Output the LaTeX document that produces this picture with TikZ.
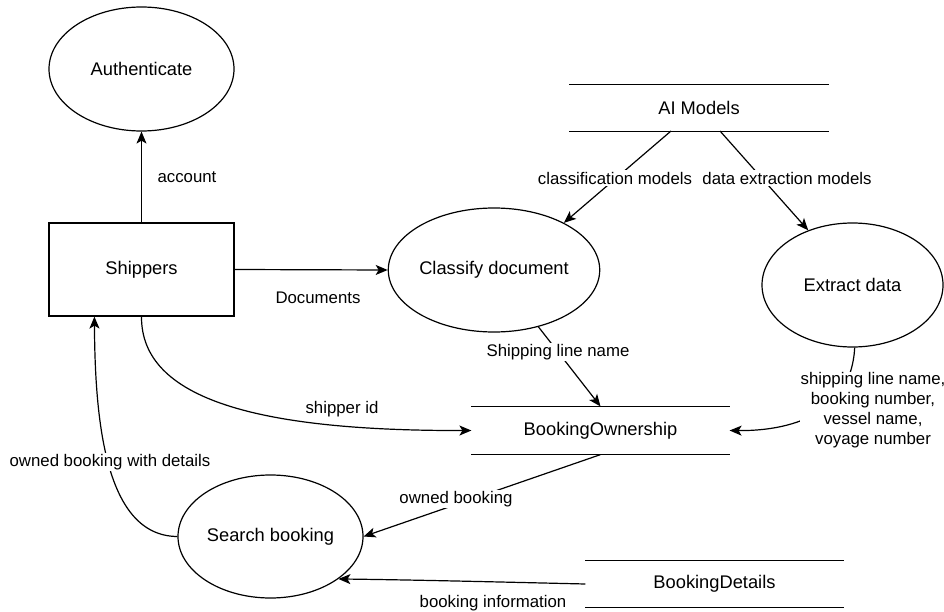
\documentclass[tikz,border=0pt]{standalone}
\usepackage{fontspec}
\setmainfont{Liberation Sans}
\usetikzlibrary{arrows.meta,shapes.geometric,calc}
\begin{document}
\begin{tikzpicture}[x=1pt,y=-1pt,
  line width=1.2pt,
  flow/.style={-{Stealth[length=12pt,width=10pt,inset=3pt]}},
  proc/.style={ellipse,draw,minimum width=185pt,minimum height=124pt,inner sep=0pt,font=\fontsize{18.3}{22}\selectfont},
  entity/.style={rectangle,draw,minimum width=185pt,minimum height=93pt,inner sep=0pt,font=\fontsize{18.3}{22}\selectfont},
  store/.style={minimum width=257pt,minimum height=46pt,inner sep=0pt,font=\fontsize{18.3}{22}\selectfont,
    append after command={(\tikzlastnode.north west) edge[draw,line width=1.2pt] (\tikzlastnode.north east)
      (\tikzlastnode.south west) edge[draw,line width=1.2pt] (\tikzlastnode.south east)}},
  lbl/.style={fill=white,inner sep=1.5pt,font=\fontsize{16.8}{20}\selectfont}
]
\useasboundingbox (0,0) rectangle (944,612);

% nodes
\node[proc] (auth) at (141.5,69) {Authenticate};
\node[entity] (ship) at (141.5,269.5) {Shippers};
\node[proc,minimum width=184pt] (classify) at (494,270) {Classify document};
\node[proc,minimum width=181pt] (extract) at (852.5,285) {Extract data};
\node[proc,minimum height=123pt] (search) at (270.5,536.5) {Search booking};
\node[store,minimum width=258pt] (ai) at (699,108) {AI Models};
\node[store,minimum height=47pt] (bo) at (600.5,430.5) {BookingOwnership};
\node[store] (bd) at (714.5,584) {BookingDetails};

\coordinate (aiL) at (671,131);
\coordinate (aiR) at (720,131);

% connectors
\draw[flow] (ship.north) -- (auth.south);
\node[lbl] (lacc) at (187,177) {account};

\draw[flow] (ship.east) -- (classify.west);
\node[lbl] (ldoc) at (318,298) {Documents};

\draw[flow] (aiL) -- (classify.34);
\node[lbl] (lcls) at (615,178) {classification models};
\draw[flow] (aiR) -- (extract.129);
\node[lbl] (lext) at (787,178) {data extraction models};

\draw[flow] (classify.-52) -- (bo.north);
\node[lbl] (lsln) at (558,352) {Shipping line name};

\draw[flow] (extract.-88) .. controls (851,420) and (780,431) .. (bo.east);
\node[lbl,align=center,inner sep=0.5pt] (lmulti) at (873,410) {shipping line name,\\booking number,\\vessel name,\\voyage number};

\draw[flow] (ship.south) .. controls (141,400) and (260,431) .. (bo.west);
\node[lbl] (lsid) at (342,409) {shipper id};

\draw[flow] (search.west) .. controls (105,536) and (95,420) .. (ship.-135);
\node[lbl] (lobd) at (110,462) {owned booking with details};

\draw[flow] (bo.south) -- (search.east);
\node[lbl] (lob) at (456,499) {owned booking};

\draw[flow] (bd.west) .. controls (500,582) and (420,580) .. (search.-32);
\node[lbl] (lbi) at (493,603) {booking information};
\end{tikzpicture}
\end{document}
